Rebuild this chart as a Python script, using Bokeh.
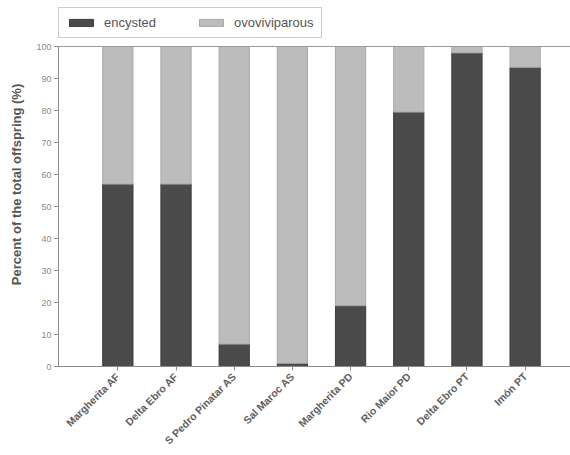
import numpy as np
from bokeh.plotting import figure
from bokeh.models import ColumnDataSource, Range1d, FixedTicker, Span
from bokeh.embed import file_html
from bokeh.resources import INLINE

sites = ["Margherita AF", "Delta Ebro AF", "S Pedro Pinatar AS", "Sal Maroc AS",
         "Margherita PD", "Rio Maior PD", "Delta Ebro PT", "Imón PT"]
encysted = [57, 57, 7, 1, 19, 79.5, 98, 93.5]
ovoviviparous = [43, 43, 93, 99, 81, 20.5, 2, 6.5]
y_ticks = [0, 10, 20, 30, 40, 50, 60, 70, 80, 90, 100]

xpos = list(range(1, len(sites) + 1))
src = ColumnDataSource(dict(x=xpos, encysted=encysted, ovoviviparous=ovoviviparous))

p = figure(width=570, height=455, output_backend="svg", toolbar_location=None,
           x_range=Range1d(-0.02, 8.78), y_range=Range1d(0, 113.75),
           min_border_left=58, min_border_right=0, min_border_top=2, min_border_bottom=89)

p.vbar_stack(["encysted", "ovoviviparous"], x="x", width=0.52, source=src,
             fill_color=["#4b4b4b", "#bcbcbc"], line_color=["#3c3c3c", "#a8a8a8"],
             line_width=1, legend_label=["encysted", "ovoviviparous"])

p.xgrid.visible = False
p.ygrid.visible = False
p.outline_line_color = None
p.background_fill_color = "white"
p.border_fill_color = "white"
p.add_layout(Span(location=y_ticks[-1], dimension="width", line_color="#9a9a9a", line_width=1))

font = "Liberation Sans"
p.yaxis.ticker = FixedTicker(ticks=y_ticks)
p.yaxis.bounds = (y_ticks[0], y_ticks[-1])
p.yaxis.axis_label = "Percent of the total offspring (%)"
p.yaxis.axis_label_text_font = font
p.yaxis.axis_label_text_font_size = "13px"
p.yaxis.axis_label_text_font_style = "bold"
p.yaxis.axis_label_text_color = "#555555"
p.yaxis.axis_label_standoff = 9
p.yaxis.major_label_text_font = font
p.yaxis.major_label_text_font_size = "9px"
p.yaxis.major_label_text_color = "#888888"
p.yaxis.major_tick_out = 4
p.yaxis.major_tick_in = 0
p.yaxis.minor_tick_out = 0
p.yaxis.minor_tick_in = 0
p.yaxis.major_label_standoff = 3

p.xaxis.ticker = FixedTicker(ticks=xpos)
p.xaxis.major_label_overrides = {x: s for x, s in zip(xpos, sites)}
p.xaxis.major_label_orientation = np.pi / 4
p.xaxis.major_label_text_font = font
p.xaxis.major_label_text_font_size = "10.5px"
p.xaxis.major_label_text_font_style = "bold"
p.xaxis.major_label_text_color = "#5e5e5e"
p.xaxis.major_tick_out = 4
p.xaxis.major_tick_in = 0
p.xaxis.minor_tick_out = 0
p.xaxis.major_label_standoff = 4

for ax in (p.xaxis, p.yaxis):
    ax.axis_line_color = "#8a8a8a"
    ax.major_tick_line_color = "#8a8a8a"

lg = p.legend[0]
lg.orientation = "horizontal"
lg.location = (0, 328)
lg.glyph_width = 30
lg.glyph_height = 9
lg.label_height = 13
lg.label_standoff = 8
lg.spacing = 40
lg.padding = 7
lg.margin = 0
lg.label_text_font = font
lg.label_text_font_size = "13px"
lg.label_text_color = "#555555"
lg.border_line_color = "#999999"
lg.background_fill_alpha = 1

open("out.html", "w").write(file_html(p, INLINE))
